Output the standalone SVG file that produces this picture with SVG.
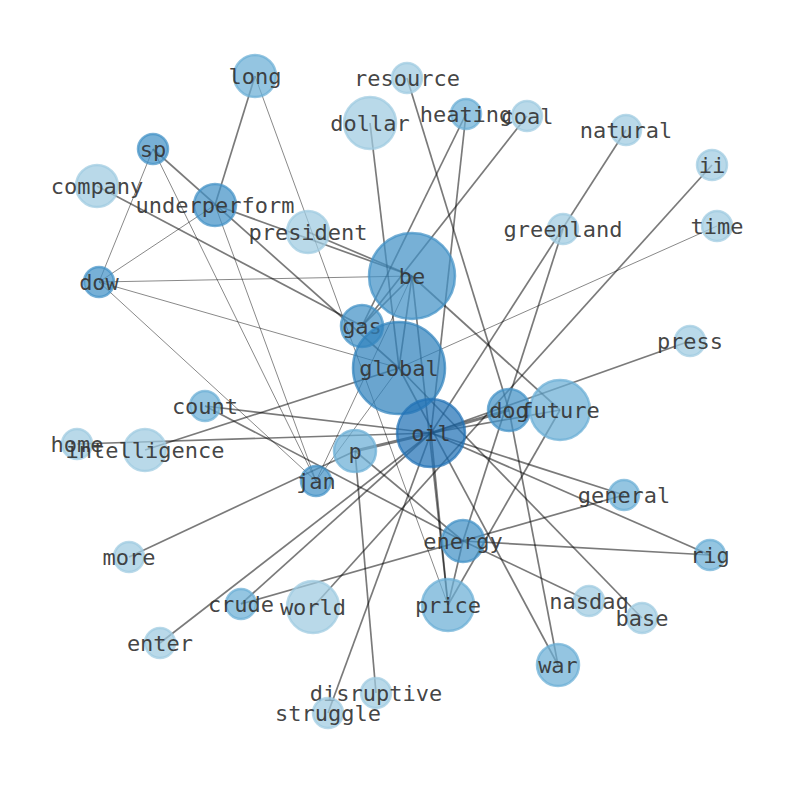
<svg xmlns="http://www.w3.org/2000/svg" width="794" height="790" viewBox="0 0 794 790">
<style>
.e{stroke:#000;stroke-opacity:0.52;stroke-width:1.7;fill:none}
.t{stroke-width:0.9}
.k{stroke-width:3}
circle{stroke-width:2.5;fill-opacity:0.72;stroke-opacity:0.72}
.a{fill:#9ecae1;stroke:#9ecae1}
.b{fill:#6baed6;stroke:#6baed6}
.c{fill:#4292c6;stroke:#4292c6}
.d{fill:#3182bd;stroke:#3182bd}
.f{fill:#2171b5;stroke:#2171b5}
text{font-family:"DejaVu Sans Mono","Liberation Mono",monospace;font-size:22px;fill:#333;fill-opacity:0.92;text-anchor:middle;dominant-baseline:central}
</style>
<rect width="794" height="790" fill="#fff"/>
<g id="edges">
<line class="e" x1="255" y1="76" x2="215" y2="205"/>
<line class="e t" x1="255" y1="76" x2="448" y2="605"/>
<line class="e t" x1="153" y1="149" x2="99" y2="282"/>
<line class="e t" x1="153" y1="149" x2="316" y2="481"/>
<line class="e" x1="153" y1="149" x2="399" y2="368"/>
<line class="e t" x1="99" y1="282" x2="215" y2="205"/>
<line class="e t" x1="99" y1="282" x2="412" y2="276"/>
<line class="e t" x1="99" y1="282" x2="399" y2="368"/>
<line class="e t" x1="99" y1="282" x2="316" y2="481"/>
<line class="e t" x1="215" y1="205" x2="316" y2="481"/>
<line class="e" x1="215" y1="205" x2="412" y2="276"/>
<line class="e" x1="308" y1="232" x2="412" y2="276"/>
<line class="e" x1="97" y1="186" x2="362" y2="326"/>
<line class="e" x1="370" y1="123" x2="399" y2="368"/>
<line class="e" x1="407" y1="78" x2="509" y2="410"/>
<line class="e" x1="466" y1="114" x2="362" y2="326"/>
<line class="e" x1="466" y1="114" x2="431" y2="433"/>
<line class="e" x1="527" y1="116" x2="362" y2="326"/>
<line class="e" x1="626" y1="130" x2="431" y2="433"/>
<line class="e" x1="563" y1="229" x2="463" y2="541"/>
<line class="e" x1="712" y1="165" x2="313" y2="607"/>
<line class="e t" x1="717" y1="226" x2="399" y2="368"/>
<line class="e" x1="690" y1="341" x2="431" y2="433"/>
<line class="e t" x1="412" y1="276" x2="316" y2="481"/>
<line class="e t" x1="399" y1="368" x2="316" y2="481"/>
<line class="e" x1="129" y1="557" x2="355" y2="451"/>
<line class="e k" x1="355" y1="451" x2="431" y2="433"/>
<line class="e" x1="355" y1="451" x2="376" y2="693"/>
<line class="e" x1="328" y1="713" x2="431" y2="433"/>
<line class="e k" x1="431" y1="433" x2="509" y2="410"/>
<line class="e" x1="431" y1="433" x2="560" y2="410"/>
<line class="e" x1="205" y1="406" x2="431" y2="433"/>
<line class="e" x1="205" y1="406" x2="463" y2="541"/>
<line class="e" x1="77" y1="444" x2="431" y2="433"/>
<line class="e" x1="145" y1="450" x2="399" y2="368"/>
<line class="e" x1="624" y1="495" x2="241" y2="604"/>
<line class="e" x1="431" y1="433" x2="624" y2="495"/>
<line class="e" x1="431" y1="433" x2="710" y2="555"/>
<line class="e" x1="463" y1="541" x2="710" y2="555"/>
<line class="e" x1="463" y1="541" x2="448" y2="605"/>
<line class="e" x1="431" y1="433" x2="448" y2="605"/>
<line class="e" x1="412" y1="276" x2="448" y2="605"/>
<line class="e" x1="241" y1="604" x2="431" y2="433"/>
<line class="e" x1="160" y1="643" x2="431" y2="433"/>
<line class="e" x1="642" y1="618" x2="399" y2="368"/>
<line class="e" x1="463" y1="541" x2="589" y2="601"/>
<line class="e" x1="509" y1="410" x2="558" y2="665"/>
<line class="e" x1="399" y1="368" x2="558" y2="665"/>
<line class="e" x1="560" y1="410" x2="448" y2="605"/>
<line class="e" x1="412" y1="276" x2="560" y2="410"/>
<line class="e" x1="412" y1="276" x2="362" y2="326"/>
<line class="e" x1="412" y1="276" x2="399" y2="368"/>
<line class="e" x1="355" y1="451" x2="463" y2="541"/>
</g>
<g id="n-long"><circle class="b" cx="255" cy="76" r="21"/><text x="255" y="76">long</text></g>
<g id="n-resource"><circle class="a" cx="407" cy="78" r="15"/><text x="407" y="78">resource</text></g>
<g id="n-dollar"><circle class="a" cx="370" cy="123" r="26"/><text x="370" y="123">dollar</text></g>
<g id="n-heating"><circle class="b" cx="466" cy="114" r="15"/><text x="466" y="114">heating</text></g>
<g id="n-coal"><circle class="a" cx="527" cy="116" r="15"/><text x="527" y="116">coal</text></g>
<g id="n-natural"><circle class="a" cx="626" cy="130" r="15"/><text x="626" y="130">natural</text></g>
<g id="n-ii"><circle class="a" cx="712" cy="165" r="15"/><text x="712" y="165">ii</text></g>
<g id="n-sp"><circle class="c" cx="153" cy="149" r="15"/><text x="153" y="149">sp</text></g>
<g id="n-company"><circle class="a" cx="97" cy="186" r="21"/><text x="97" y="186">company</text></g>
<g id="n-underperform"><circle class="c" cx="215" cy="205" r="21"/><text x="215" y="205">underperform</text></g>
<g id="n-president"><circle class="a" cx="308" cy="232" r="21"/><text x="308" y="232">president</text></g>
<g id="n-greenland"><circle class="a" cx="563" cy="229" r="15"/><text x="563" y="229">greenland</text></g>
<g id="n-time"><circle class="a" cx="717" cy="226" r="15"/><text x="717" y="226">time</text></g>
<g id="n-be"><circle class="c" cx="412" cy="276" r="43"/><text x="412" y="276">be</text></g>
<g id="n-dow"><circle class="c" cx="99" cy="282" r="15"/><text x="99" y="282">dow</text></g>
<g id="n-gas"><circle class="c" cx="362" cy="326" r="21"/><text x="362" y="326">gas</text></g>
<g id="n-press"><circle class="a" cx="690" cy="341" r="15"/><text x="690" y="341">press</text></g>
<g id="n-global"><circle class="d" cx="399" cy="368" r="46"/><text x="399" y="368">global</text></g>
<g id="n-count"><circle class="b" cx="205" cy="406" r="15"/><text x="205" y="406">count</text></g>
<g id="n-dog"><circle class="c" cx="509" cy="410" r="21"/><text x="509" y="410">dog</text></g>
<g id="n-future"><circle class="b" cx="560" cy="410" r="30"/><text x="560" y="410">future</text></g>
<g id="n-oil"><circle class="f" cx="431" cy="433" r="34"/><text x="431" y="433">oil</text></g>
<g id="n-home"><circle class="a" cx="77" cy="444" r="15"/><text x="77" y="444">home</text></g>
<g id="n-intelligence"><circle class="a" cx="145" cy="450" r="21"/><text x="145" y="450">intelligence</text></g>
<g id="n-p"><circle class="b" cx="355" cy="451" r="21"/><text x="355" y="451">p</text></g>
<g id="n-jan"><circle class="c" cx="316" cy="481" r="15"/><text x="316" y="481">jan</text></g>
<g id="n-general"><circle class="b" cx="624" cy="495" r="15"/><text x="624" y="495">general</text></g>
<g id="n-energy"><circle class="c" cx="463" cy="541" r="21"/><text x="463" y="541">energy</text></g>
<g id="n-rig"><circle class="b" cx="710" cy="555" r="15"/><text x="710" y="555">rig</text></g>
<g id="n-more"><circle class="a" cx="129" cy="557" r="15"/><text x="129" y="557">more</text></g>
<g id="n-crude"><circle class="b" cx="241" cy="604" r="15"/><text x="241" y="604">crude</text></g>
<g id="n-world"><circle class="a" cx="313" cy="607" r="26"/><text x="313" y="607">world</text></g>
<g id="n-price"><circle class="b" cx="448" cy="605" r="26"/><text x="448" y="605">price</text></g>
<g id="n-nasdaq"><circle class="a" cx="589" cy="601" r="15"/><text x="589" y="601">nasdaq</text></g>
<g id="n-base"><circle class="a" cx="642" cy="618" r="15"/><text x="642" y="618">base</text></g>
<g id="n-enter"><circle class="a" cx="160" cy="643" r="15"/><text x="160" y="643">enter</text></g>
<g id="n-war"><circle class="b" cx="558" cy="665" r="21"/><text x="558" y="665">war</text></g>
<g id="n-disruptive"><circle class="a" cx="376" cy="693" r="15"/><text x="376" y="693">disruptive</text></g>
<g id="n-struggle"><circle class="a" cx="328" cy="713" r="15"/><text x="328" y="713">struggle</text></g>
</svg>
